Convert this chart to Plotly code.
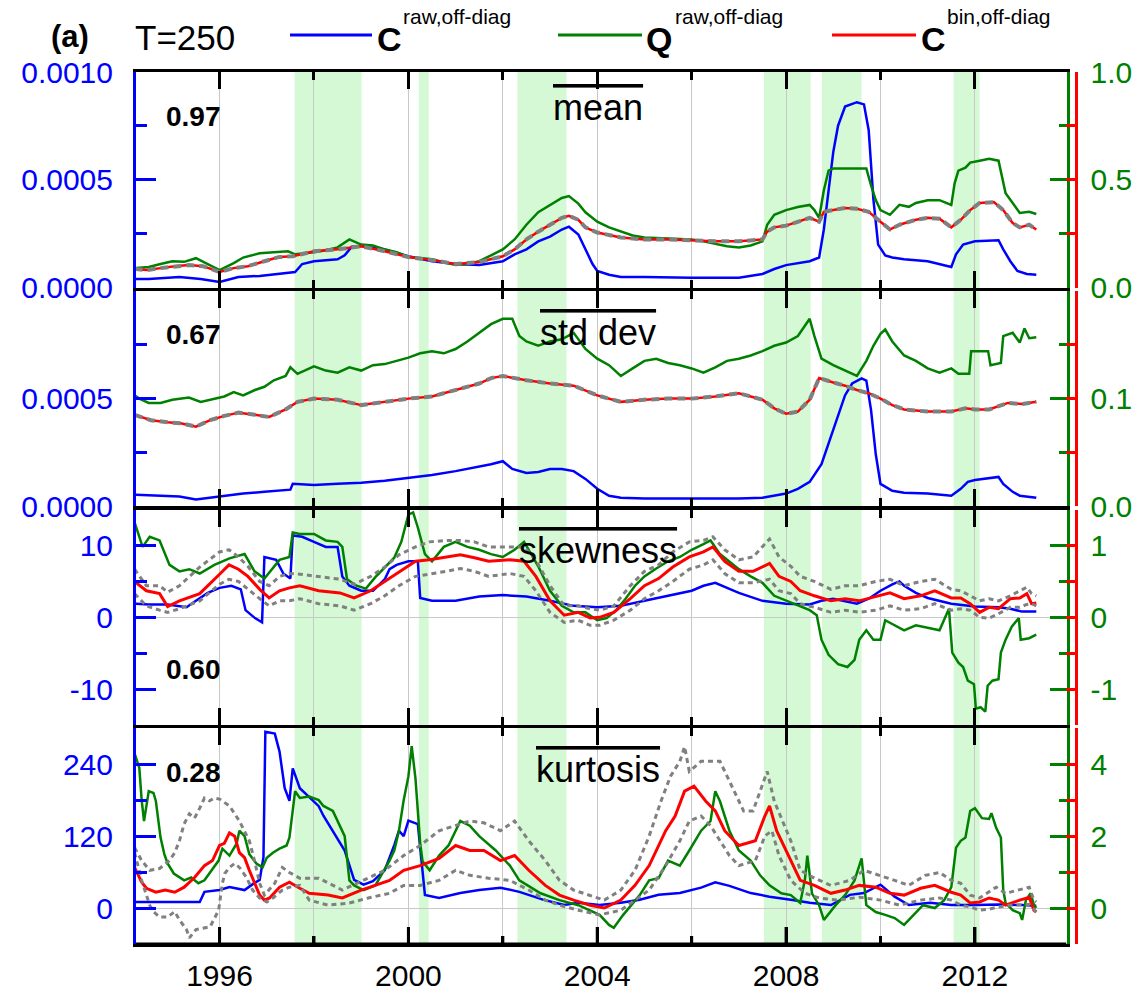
import plotly.graph_objects as go

# ---------------- data ----------------
shade_start = [1997.59, 2000.22, 2002.31, 2007.53, 2008.76, 2011.55]
shade_end = [1999.01, 2000.43, 2003.35, 2008.52, 2009.60, 2012.10]

x_major = [1996, 2000, 2004, 2008, 2012]
x_major_text = ["1996", "2000", "2004", "2008", "2012"]
x_minor = [1998, 2002, 2006, 2010]

# ---- panel 1: mean ----
mean_C_t = [1994.2, 1994.5, 1995.15, 1995.6, 1996.0, 1996.4, 1996.85, 1997.3, 1997.6, 1997.75, 1998.0, 1998.5,
            1998.65, 1998.8, 1999.0, 1999.5, 2000.0, 2000.5, 2001.0, 2001.5, 2002.0, 2002.25, 2002.5, 2002.75,
            2003.0, 2003.25, 2003.4, 2003.6, 2003.75, 2003.9, 2004.0, 2004.25, 2004.5, 2005.0, 2006.0, 2007.0,
            2007.5, 2007.75, 2008.0, 2008.25, 2008.5, 2008.7, 2008.8, 2008.9, 2009.0, 2009.1, 2009.25, 2009.5,
            2009.65, 2009.75, 2009.85, 2009.95, 2010.1, 2010.25, 2010.5, 2011.0, 2011.25, 2011.5, 2011.6, 2011.75,
            2012.0, 2012.5, 2012.6, 2012.75, 2012.9, 2013.1, 2013.3]
mean_C = [4.1e-5, 4.0e-5, 5.0e-5, 4.1e-5, 2.7e-5, 5.0e-5, 5.5e-5, 6.4e-5, 7.3e-5, 1.10e-4, 1.23e-4, 1.32e-4,
          1.50e-4, 1.90e-4, 1.95e-4, 1.78e-4, 1.46e-4, 1.23e-4, 1.10e-4, 1.05e-4, 1.23e-4, 1.55e-4, 1.78e-4, 2.15e-4,
          2.37e-4, 2.70e-4, 2.83e-4, 2.47e-4, 1.78e-4, 1.10e-4, 7.8e-5, 6.0e-5, 5.0e-5, 5.0e-5, 4.6e-5, 4.6e-5,
          6.4e-5, 8.7e-5, 1.05e-4, 1.14e-4, 1.23e-4, 1.40e-4, 2.70e-4, 4.50e-4, 6.30e-4, 7.50e-4, 8.40e-4, 8.60e-4,
          8.50e-4, 7.30e-4, 4.10e-4, 2.00e-4, 1.50e-4, 1.40e-4, 1.32e-4, 1.23e-4, 1.10e-4, 9.6e-5, 1.55e-4, 2.00e-4,
          2.15e-4, 2.20e-4, 1.78e-4, 1.23e-4, 7.8e-5, 6.4e-5, 6.0e-5]

mean_Q_t = [1994.2, 1994.5, 1994.75, 1995.0, 1995.25, 1995.5, 1995.75, 1996.0, 1996.3, 1996.5, 1996.85, 1997.2,
            1997.45, 1997.6, 1998.0, 1998.25, 1998.5, 1998.75, 1999.0, 1999.25, 1999.5, 1999.75, 2000.0, 2000.25,
            2000.5, 2000.75, 2001.0, 2001.25, 2001.5, 2001.75, 2002.0, 2002.25, 2002.5, 2002.75, 2003.0, 2003.25,
            2003.4, 2003.6, 2003.75, 2004.0, 2004.25, 2004.5, 2004.75, 2005.0, 2005.5, 2006.0, 2006.25, 2006.5,
            2006.75, 2007.0, 2007.25, 2007.5, 2007.6, 2007.75, 2008.0, 2008.25, 2008.5, 2008.6, 2008.7, 2008.8,
            2008.9, 2009.0, 2009.5, 2009.7, 2009.8, 2009.9, 2010.0, 2010.2, 2010.4, 2010.6, 2010.75, 2011.0,
            2011.25, 2011.5, 2011.57, 2011.65, 2011.8, 2011.9, 2012.1, 2012.3, 2012.5, 2012.57, 2012.65, 2012.95,
            2013.15, 2013.3]
mean_Q = [0.091, 0.096, 0.11, 0.123, 0.12, 0.137, 0.11, 0.082, 0.114, 0.14, 0.16, 0.164,
          0.169, 0.155, 0.164, 0.174, 0.187, 0.224, 0.2, 0.196, 0.178, 0.165, 0.142, 0.138,
          0.132, 0.118, 0.105, 0.11, 0.123, 0.15, 0.178, 0.224, 0.292, 0.35, 0.384, 0.416,
          0.425, 0.39, 0.35, 0.306, 0.28, 0.26, 0.242, 0.233, 0.228, 0.224, 0.215, 0.205,
          0.192, 0.187, 0.196, 0.215, 0.292, 0.338, 0.36, 0.374, 0.384, 0.36, 0.324, 0.452,
          0.543, 0.553, 0.553, 0.553, 0.475, 0.406, 0.36, 0.338, 0.384, 0.375, 0.393, 0.406,
          0.406, 0.384, 0.484, 0.543, 0.557, 0.58, 0.589, 0.598, 0.589, 0.511, 0.438, 0.347,
          0.352, 0.342]

mean_B_t = [1994.2, 1994.45, 1994.75, 1995.05, 1995.35, 1995.65, 1996.0, 1996.3, 1996.6, 1996.95, 1997.25, 1997.55,
            1998.0, 1998.5, 1999.0, 1999.5, 2000.0, 2000.5, 2001.0, 2001.5, 2002.0, 2002.25, 2002.5, 2002.75,
            2003.0, 2003.25, 2003.4, 2003.6, 2003.75, 2004.0, 2004.5, 2005.0, 2005.5, 2006.0, 2006.5, 2007.0,
            2007.5, 2007.6, 2007.75, 2008.0, 2008.25, 2008.5, 2008.7, 2008.8, 2009.0, 2009.25, 2009.5, 2009.75,
            2010.0, 2010.2, 2010.4, 2010.75, 2011.0, 2011.25, 2011.5, 2011.7, 2011.9, 2012.1, 2012.4, 2012.6,
            2012.8, 2012.95, 2013.15, 2013.3]
mean_B = [0.087, 0.082, 0.091, 0.1, 0.105, 0.1, 0.073, 0.091, 0.1, 0.123, 0.142, 0.146,
          0.169, 0.178, 0.192, 0.169, 0.142, 0.128, 0.11, 0.119, 0.146, 0.178, 0.224, 0.26,
          0.292, 0.324, 0.333, 0.315, 0.28, 0.256, 0.233, 0.224, 0.224, 0.219, 0.215, 0.215,
          0.224, 0.26, 0.28, 0.288, 0.306, 0.324, 0.306, 0.352, 0.36, 0.37, 0.366, 0.352,
          0.306, 0.27, 0.292, 0.315, 0.324, 0.32, 0.28, 0.315, 0.36, 0.393, 0.397, 0.36,
          0.3, 0.28, 0.292, 0.27]

# ---- panel 2: std dev ----
std_C_t = [1994.2, 1994.75, 1995.15, 1995.5, 1995.8, 1996.1, 1996.5, 1996.95, 1997.5, 1997.55, 1998.0, 1998.5,
           1999.0, 1999.5, 2000.0, 2000.5, 2001.0, 2001.5, 2001.75, 2002.0, 2002.2, 2002.5, 2002.75, 2003.0,
           2003.25, 2003.5, 2003.75, 2004.0, 2004.25, 2004.5, 2005.0, 2006.0, 2007.0, 2007.5, 2007.75, 2008.0,
           2008.25, 2008.5, 2008.75, 2009.0, 2009.25, 2009.4, 2009.6, 2009.7, 2009.8, 2009.9, 2010.0, 2010.25,
           2010.5, 2011.0, 2011.5, 2011.7, 2011.85, 2012.0, 2012.5, 2012.6, 2012.8, 2012.95, 2013.3]
std_C = [5.5e-5, 5.0e-5, 4.6e-5, 3.2e-5, 4.1e-5, 5.0e-5, 6.0e-5, 6.8e-5, 7.8e-5, 1.05e-4, 1.00e-4, 1.05e-4,
         1.10e-4, 1.19e-4, 1.32e-4, 1.46e-4, 1.64e-4, 1.83e-4, 1.96e-4, 2.10e-4, 1.74e-4, 1.55e-4, 1.60e-4, 1.74e-4,
         1.74e-4, 1.64e-4, 1.28e-4, 8.2e-5, 5.0e-5, 4.1e-5, 3.7e-5, 3.7e-5, 3.7e-5, 4.1e-5, 5.0e-5, 6.0e-5,
         8.2e-5, 1.14e-4, 1.96e-4, 3.56e-4, 5.16e-4, 5.70e-4, 5.94e-4, 5.84e-4, 4.47e-4, 2.42e-4, 1.05e-4, 7.3e-5,
         6.4e-5, 6.0e-5, 5.0e-5, 8.2e-5, 1.14e-4, 1.23e-4, 1.37e-4, 1.05e-4, 6.8e-5, 5.0e-5, 4.1e-5]

std_Q_t = [1994.2, 1994.3, 1994.5, 1994.75, 1995.0, 1995.35, 1995.6, 1995.9, 1996.1, 1996.3, 1996.5, 1996.75,
           1996.95, 1997.15, 1997.4, 1997.5, 1997.65, 1998.0, 1998.25, 1998.5, 1998.75, 1999.0, 1999.25, 1999.5,
           1999.75, 2000.0, 2000.25, 2000.5, 2000.75, 2001.0, 2001.25, 2001.5, 2001.75, 2002.0, 2002.2, 2002.35,
           2002.5, 2002.75, 2003.0, 2003.25, 2003.5, 2003.75, 2004.0, 2004.25, 2004.5, 2004.75, 2005.0, 2005.25,
           2005.5, 2005.75, 2006.0, 2006.25, 2006.5, 2006.75, 2007.0, 2007.25, 2007.5, 2007.75, 2008.0, 2008.25,
           2008.4, 2008.5, 2008.6, 2008.75, 2009.0, 2009.25, 2009.5, 2009.7, 2009.85, 2010.0, 2010.1, 2010.25,
           2010.5, 2010.75, 2011.0, 2011.25, 2011.5, 2011.65, 2011.88, 2011.92, 2012.28, 2012.33, 2012.55, 2012.6,
           2012.8, 2012.95, 2013.05, 2013.15, 2013.3]
std_Q = [0.103, 0.1, 0.096, 0.096, 0.099, 0.101, 0.097, 0.1, 0.102, 0.106, 0.103, 0.108,
         0.111, 0.117, 0.121, 0.129, 0.123, 0.13, 0.126, 0.124, 0.129, 0.126, 0.131, 0.132,
         0.135, 0.138, 0.142, 0.144, 0.142, 0.146, 0.153, 0.161, 0.169, 0.174, 0.174, 0.158,
         0.153, 0.149, 0.153, 0.155, 0.161, 0.146, 0.137, 0.131, 0.121, 0.128, 0.135, 0.137,
         0.133, 0.131, 0.128, 0.124, 0.129, 0.135, 0.137, 0.14, 0.144, 0.149, 0.152, 0.158,
         0.167, 0.174, 0.158, 0.137, 0.131, 0.126, 0.121, 0.135, 0.149, 0.16, 0.164, 0.153,
         0.14, 0.135, 0.128, 0.124, 0.128, 0.123, 0.123, 0.144, 0.144, 0.131, 0.133, 0.158,
         0.161, 0.152, 0.165, 0.156, 0.157]

std_B_t = [1994.2, 1994.55, 1994.9, 1995.2, 1995.5, 1995.8, 1996.1, 1996.4, 1996.75, 1997.05, 1997.4, 1997.65,
           1998.0, 1998.5, 1999.0, 1999.5, 2000.0, 2000.5, 2001.0, 2001.5, 2001.75, 2002.0, 2002.5, 2003.0,
           2003.5, 2004.0, 2004.5, 2005.0, 2005.5, 2006.0, 2006.5, 2007.0, 2007.5, 2007.75, 2008.0, 2008.25,
           2008.5, 2008.7, 2009.0, 2009.25, 2009.5, 2009.75, 2010.0, 2010.25, 2010.5, 2011.0, 2011.5, 2011.8,
           2012.0, 2012.3, 2012.7, 2013.0, 2013.3]
std_B = [0.085, 0.08, 0.078, 0.077, 0.074, 0.08, 0.084, 0.087, 0.085, 0.083, 0.09, 0.097,
         0.1, 0.099, 0.094, 0.097, 0.1, 0.102, 0.108, 0.114, 0.119, 0.121, 0.117, 0.114,
         0.112, 0.103, 0.097, 0.099, 0.1, 0.1, 0.102, 0.105, 0.099, 0.091, 0.086, 0.088,
         0.099, 0.119, 0.115, 0.112, 0.108, 0.105, 0.1, 0.094, 0.09, 0.088, 0.088, 0.091,
         0.09, 0.09, 0.096, 0.095, 0.097]

# ---- panel 3: skewness ----
skew_C_t = [1994.2, 1994.5, 1994.9, 1995.3, 1995.5, 1995.75, 1996.0, 1996.25, 1996.45, 1996.55, 1996.75, 1996.9,
            1996.95, 1997.2, 1997.35, 1997.5, 1997.55, 1997.75, 1998.0, 1998.25, 1998.5, 1998.6, 1998.75, 1999.0,
            1999.25, 1999.5, 1999.6, 1999.75, 2000.0, 2000.2, 2000.25, 2000.5, 2001.0, 2001.5, 2002.0, 2002.5,
            2003.0, 2003.5, 2004.0, 2004.5, 2005.0, 2005.5, 2006.0, 2006.25, 2006.5, 2006.75, 2007.0, 2007.5,
            2008.0, 2008.5, 2008.75, 2009.0, 2009.5, 2009.75, 2010.0, 2010.25, 2010.4, 2010.5, 2010.75, 2011.0,
            2011.5, 2012.0, 2012.5, 2012.75, 2013.0, 2013.3]
skew_C = [1.9, 1.8, 1.8, 1.4, 2.3, 3.4, 4.1, 4.4, 3.9, 1.0, -0.1, -0.7,
          8.4, 8.0, 6.1, 5.4, 11.4, 11.2, 10.5, 9.8, 9.8, 5.7, 4.4, 3.7,
          3.7, 5.3, 6.7, 7.3, 7.8, 7.8, 2.7, 2.3, 2.3, 2.9, 3.1, 2.9,
          2.3, 1.6, 1.4, 1.6, 2.3, 3.0, 3.7, 4.4, 4.8, 4.1, 3.4, 2.3,
          1.9, 1.8, 2.3, 2.6, 1.9, 2.6, 3.7, 4.6, 5.0, 4.4, 3.4, 2.7,
          1.9, 1.5, 1.4, 1.2, 0.8, 0.8]

skew_Q_t = [1994.2, 1994.37, 1994.52, 1994.73, 1994.94, 1995.15, 1995.36, 1995.58, 1995.89, 1996.21, 1996.53, 1996.74,
            1996.95, 1997.27, 1997.48, 1997.55, 1997.7, 1998.0, 1998.25, 1998.5, 1998.6, 1998.7, 1998.9, 1999.1,
            1999.3, 1999.5, 1999.7, 1999.85, 2000.0, 2000.1, 2000.2, 2000.35, 2000.5, 2000.75, 2001.0, 2001.25,
            2001.5, 2001.75, 2002.0, 2002.25, 2002.45, 2002.6, 2002.75, 2003.0, 2003.25, 2003.5, 2003.75, 2004.0,
            2004.2, 2004.4, 2004.6, 2004.8, 2005.0, 2005.25, 2005.5, 2005.75, 2006.0, 2006.25, 2006.4, 2006.6,
            2006.8, 2007.0, 2007.25, 2007.5, 2007.75, 2008.0, 2008.25, 2008.5, 2008.65, 2008.75, 2008.9, 2009.1,
            2009.3, 2009.45, 2009.55, 2009.7, 2009.85, 2010.0, 2010.1, 2010.3, 2010.5, 2010.75, 2011.0, 2011.25,
            2011.45, 2011.52, 2011.65, 2011.75, 2011.85, 2011.98, 2012.02, 2012.12, 2012.22, 2012.27, 2012.37, 2012.5,
            2012.55, 2012.65, 2012.78, 2012.93, 2012.97, 2013.15, 2013.3]
skew_Q = [1.32, 0.98, 1.12, 1.07, 0.73, 0.64, 0.67, 0.61, 0.73, 0.82, 0.88, 0.64,
          0.54, 0.8, 0.84, 1.18, 1.16, 1.16, 1.07, 1.05, 0.98, 0.53, 0.44, 0.4,
          0.56, 0.69, 0.83, 1.05, 1.43, 1.46, 1.25, 0.88, 0.78, 0.98, 1.05, 0.98,
          0.94, 0.88, 0.84, 0.94, 1.05, 0.88, 0.71, 0.37, 0.16, 0.07, 0.07, -0.04,
          -0.01, 0.1, 0.26, 0.44, 0.57, 0.68, 0.78, 0.84, 0.94, 1.02, 1.07, 0.88,
          0.78, 0.67, 0.57, 0.48, 0.3, 0.23, 0.16, 0.1, 0.03, -0.31, -0.52, -0.65,
          -0.69, -0.59, -0.31, -0.18, -0.31, -0.31, -0.04, -0.11, -0.18, -0.11, -0.15, -0.18,
          0.12, -0.49, -0.63, -0.69, -0.88, -0.93, -1.27, -1.25, -1.31, -0.95, -0.88, -0.86,
          -0.49, -0.31, -0.13, -0.01, -0.31, -0.29, -0.24]

skew_B_t = [1994.2, 1994.45, 1994.73, 1994.9, 1995.15, 1995.58, 1996.0, 1996.2, 1996.4, 1996.6, 1996.85, 1997.05,
            1997.27, 1997.48, 1997.7, 1998.1, 1998.55, 1998.85, 1999.2, 1999.5, 1999.8, 2000.15, 2000.45, 2000.8,
            2001.1, 2001.4, 2001.7, 2002.15, 2002.45, 2002.7, 2003.0, 2003.3, 2003.6, 2003.85, 2004.05, 2004.35,
            2004.7, 2005.0, 2005.3, 2005.6, 2005.95, 2006.25, 2006.45, 2006.7, 2007.0, 2007.3, 2007.65, 2007.85,
            2008.1, 2008.3, 2008.6, 2008.95, 2009.25, 2009.55, 2009.9, 2010.2, 2010.5, 2010.85, 2011.15, 2011.5,
            2011.7, 2011.9, 2012.1, 2012.3, 2012.5, 2012.75, 2012.95, 2013.1, 2013.2, 2013.3]
skew_B = [0.5, 0.37, 0.33, 0.15, 0.23, 0.33, 0.6, 0.73, 0.67, 0.57, 0.39, 0.27,
          0.37, 0.41, 0.44, 0.37, 0.34, 0.27, 0.37, 0.5, 0.64, 0.78, 0.8, 0.84,
          0.87, 0.83, 0.78, 0.8, 0.78, 0.57, 0.23, 0.03, 0.07, -0.01, 0.0, 0.07,
          0.26, 0.44, 0.54, 0.7, 0.84, 0.91, 0.98, 0.78, 0.64, 0.64, 0.75, 0.57,
          0.5, 0.37, 0.3, 0.23, 0.26, 0.23, 0.29, 0.34, 0.26, 0.3, 0.37, 0.27,
          0.27, 0.19, 0.07, 0.14, 0.12, 0.26, 0.27, 0.33, 0.19, 0.2]
skew_B_hi = [0.67, 0.44, 0.44, 0.35, 0.44, 0.7, 0.91, 0.94, 0.84, 0.71, 0.5, 0.44,
             0.57, 0.61, 0.6, 0.57, 0.53, 0.46, 0.57, 0.7, 0.87, 0.98, 1.05, 1.07,
             1.07, 1.05, 0.98, 0.98, 0.98, 0.8, 0.44, 0.16, 0.16, 0.12, 0.1, 0.16,
             0.44, 0.64, 0.73, 0.91, 1.05, 1.07, 1.12, 0.94, 0.8, 0.84, 1.09, 0.84,
             0.71, 0.57, 0.5, 0.39, 0.44, 0.44, 0.5, 0.53, 0.44, 0.5, 0.53, 0.39,
             0.37, 0.3, 0.23, 0.26, 0.23, 0.3, 0.37, 0.42, 0.33, 0.3]
skew_B_lo = [0.33, 0.16, 0.1, 0.07, 0.12, 0.23, 0.46, 0.53, 0.5, 0.39, 0.26, 0.16,
             0.23, 0.23, 0.26, 0.19, 0.16, 0.1, 0.19, 0.3, 0.44, 0.57, 0.6, 0.64,
             0.68, 0.64, 0.57, 0.61, 0.57, 0.37, 0.07, -0.07, -0.04, -0.11, -0.11, -0.04,
             0.1, 0.26, 0.37, 0.5, 0.67, 0.73, 0.8, 0.61, 0.48, 0.48, 0.53, 0.37,
             0.33, 0.19, 0.14, 0.07, 0.1, 0.07, 0.1, 0.16, 0.1, 0.12, 0.19, 0.1,
             0.12, 0.1, 0.0, -0.01, 0.05, 0.14, 0.14, 0.18, 0.19, 0.16]

# ---- panel 4: kurtosis ----
kurt_C_t = [1994.2, 1994.5, 1994.94, 1995.58, 1995.68, 1996.0, 1996.21, 1996.53, 1996.74, 1996.85, 1996.93, 1996.97,
            1997.17, 1997.27, 1997.38, 1997.48, 1997.55, 1997.7, 1997.9, 1998.1, 1998.2, 1998.4, 1998.65, 1998.85,
            1999.05, 1999.25, 1999.5, 1999.7, 1999.8, 1999.9, 2000.0, 2000.2, 2000.27, 2000.35, 2000.65, 2001.1,
            2001.5, 2001.95, 2002.35, 2002.85, 2003.3, 2003.6, 2004.05, 2004.5, 2004.9, 2005.3, 2005.75, 2006.2,
            2006.5, 2006.8, 2007.25, 2007.65, 2008.1, 2008.5, 2008.95, 2009.35, 2009.65, 2010.0, 2010.3, 2010.6,
            2011.05, 2011.5, 2012.0, 2012.5, 2013.0, 2013.3]
kurt_C = [10, 10, 9, 10, 27, 30, 35, 30, 42, 47, 85, 294,
          291, 261, 200, 179, 233, 200, 185, 170, 154, 129, 96, 47,
          39, 45, 63, 105, 129, 120, 146, 140, 80, 22, 17, 25,
          30, 34, 27, 14, 5, 9, 5, 9, 14, 22, 25, 34,
          43, 37, 25, 19, 14, 9, 5, 22, 25, 39, 19, 5,
          9, 5, 5, 6, 5, 4]

kurt_Q_t = [1994.2, 1994.3, 1994.35, 1994.4, 1994.5, 1994.6, 1994.65, 1994.75, 1994.83, 1994.9, 1995.03, 1995.25,
            1995.4, 1995.55, 1995.68, 1995.83, 1995.98, 1996.06, 1996.21, 1996.36, 1996.42, 1996.53, 1996.63, 1996.78,
            1996.91, 1997.0, 1997.13, 1997.27, 1997.42, 1997.48, 1997.55, 1997.6, 1997.7, 1997.9, 1998.1, 1998.2,
            1998.4, 1998.65, 1998.75, 1998.85, 1999.05, 1999.3, 1999.6, 1999.7, 1999.8, 1999.9, 2000.0, 2000.07,
            2000.15, 2000.25, 2000.3, 2000.45, 2000.65, 2000.85, 2001.1, 2001.3, 2001.5, 2001.85, 2002.15, 2002.35,
            2002.8, 2003.2, 2003.6, 2004.05, 2004.25, 2004.35, 2004.55, 2004.9, 2005.1, 2005.3, 2005.5, 2005.75,
            2005.95, 2006.2, 2006.4, 2006.5, 2006.6, 2006.8, 2007.0, 2007.25, 2007.45, 2007.65, 2007.9, 2008.1,
            2008.3, 2008.4, 2008.45, 2008.55, 2008.7, 2008.8, 2009.05, 2009.25, 2009.45, 2009.6, 2009.7, 2009.9,
            2010.1, 2010.3, 2010.5, 2010.7, 2010.9, 2011.15, 2011.35, 2011.5, 2011.6, 2011.7, 2011.8, 2011.9,
            2012.0, 2012.15, 2012.3, 2012.35, 2012.45, 2012.55, 2012.6, 2012.65, 2012.8, 2012.95, 2013.0, 2013.08,
            2013.18, 2013.25, 2013.3]
kurt_Q = [4.3, 3.9, 3.0, 2.42, 3.25, 3.2, 2.98, 1.96, 1.5, 1.24, 0.96, 0.77,
          0.85, 0.69, 0.77, 1.05, 1.32, 1.65, 1.46, 1.79, 2.15, 2.0, 1.5, 1.24,
          1.13, 1.4, 1.54, 1.65, 1.74, 1.96, 2.78, 3.25, 3.06, 3.1, 3.0, 2.84,
          2.7, 2.0, 0.77, 0.63, 0.5, 0.63, 1.32, 1.6, 2.15, 3.0, 3.66, 4.5,
          3.6, 1.8, 1.3, 1.05, 1.46, 1.74, 2.42, 2.29, 2.0, 1.6, 1.18, 0.77,
          0.41, 0.22, 0.08, -0.19, -0.47, -0.55, -0.19, 0.36, 0.77, 0.83, 1.32, 1.18,
          1.6, 2.15, 2.42, 3.25, 2.97, 2.15, 1.6, 1.32, 0.91, 0.63, 0.41, 0.36,
          0.14, 0.8, 1.46, 0.4, 0.08, -0.33, 0.08, 0.36, 0.77, 1.38, 0.08, -0.11,
          -0.19, -0.28, -0.47, -0.19, 0.08, 0.0, 0.22, 0.58, 1.68, 1.87, 1.96, 2.7,
          2.78, 2.5, 2.48, 2.64, 2.23, 1.96, 0.5, 0.14, -0.06, -0.14, -0.33, 0.22,
          0.41, 0.08, 0.0]

kurt_B_t = [1994.2, 1994.35, 1994.45, 1994.65, 1994.85, 1995.05, 1995.25, 1995.47, 1995.68, 1995.85, 1996.0, 1996.1,
            1996.21, 1996.32, 1996.42, 1996.53, 1996.63, 1996.74, 1996.85, 1996.95, 1997.06, 1997.27, 1997.48, 1997.7,
            1997.9, 1998.3, 1998.6, 1999.0, 1999.3, 1999.6, 1999.9, 2000.25, 2000.65, 2001.0, 2001.3, 2001.6,
            2001.95, 2002.25, 2002.55, 2002.9, 2003.2, 2003.5, 2003.85, 2004.15, 2004.5, 2004.8, 2005.1, 2005.45,
            2005.65, 2005.85, 2006.05, 2006.3, 2006.5, 2006.7, 2007.0, 2007.35, 2007.55, 2007.65, 2007.8, 2008.1,
            2008.3, 2008.6, 2008.95, 2009.25, 2009.55, 2009.9, 2010.2, 2010.5, 2010.85, 2011.15, 2011.5, 2011.7,
            2011.9, 2012.1, 2012.3, 2012.5, 2012.65, 2012.95, 2013.15, 2013.25, 2013.3]
kurt_B = [1.13, 0.72, 0.55, 0.44, 0.5, 0.44, 0.58, 0.85, 1.18, 1.32, 1.74, 1.8,
          2.09, 2.0, 1.54, 1.4, 1.05, 0.69, 0.36, 0.22, 0.28, 0.58, 0.72, 0.55,
          0.41, 0.36, 0.28, 0.5, 0.63, 0.77, 1.05, 1.18, 1.38, 1.74, 1.6, 1.6,
          1.32, 1.46, 1.05, 0.63, 0.36, 0.22, 0.08, 0.0, 0.22, 0.63, 1.18, 2.15,
          2.56, 3.25, 3.39, 2.97, 2.7, 2.15, 1.74, 1.87, 2.56, 2.84, 2.15, 1.32,
          0.77, 0.63, 0.41, 0.5, 0.63, 0.58, 0.41, 0.36, 0.55, 0.63, 0.44, 0.36,
          0.14, 0.17, 0.28, 0.22, 0.08, 0.22, 0.3, -0.06, -0.11]

kurt_B_hi_t = [1994.2, 1994.35, 1994.52, 1994.73, 1994.94, 1995.05, 1995.15, 1995.25, 1995.36, 1995.47, 1995.58, 1995.68,
               1995.79, 1995.89, 1996.0, 1996.21, 1996.42, 1996.63, 1996.74, 1996.85, 1996.95, 1997.17, 1997.33, 1997.48,
               1997.7, 1998.1, 1998.6, 1999.05, 1999.5, 1999.9, 2000.25, 2000.65, 2001.0, 2001.3, 2001.6, 2001.95,
               2002.25, 2002.55, 2002.9, 2003.2, 2003.5, 2003.85, 2004.15, 2004.5, 2004.8, 2005.1, 2005.35, 2005.55,
               2005.75, 2005.85, 2005.95, 2006.2, 2006.4, 2006.6, 2006.8, 2007.1, 2007.3, 2007.6, 2007.75, 2008.1,
               2008.3, 2008.6, 2008.95, 2009.35, 2009.65, 2010.0, 2010.3, 2010.6, 2010.95, 2011.25, 2011.5, 2011.7,
               2011.9, 2012.1, 2012.3, 2012.45, 2012.65, 2012.95, 2013.15, 2013.25, 2013.3]
kurt_B_hi = [1.68, 1.32, 1.05, 1.1, 1.32, 1.54, 1.87, 2.34, 2.62, 2.5, 2.78, 3.06,
             2.98, 3.06, 3.03, 2.84, 2.42, 1.87, 1.32, 0.69, 0.36, 0.69, 1.13, 0.99,
             0.83, 0.83, 0.5, 0.77, 1.05, 1.46, 1.74, 2.15, 2.29, 2.42, 2.37, 2.15,
             2.42, 1.87, 1.32, 0.77, 0.5, 0.36, 0.22, 0.5, 1.05, 2.0, 2.97, 3.66,
             4.08, 4.49, 3.8, 4.08, 4.08, 4.08, 3.53, 2.7, 2.7, 3.8, 2.97, 1.87,
             1.05, 0.83, 0.63, 0.77, 1.05, 0.91, 0.77, 0.63, 0.91, 0.99, 0.77, 0.69,
             0.36, 0.28, 0.44, 0.58, 0.41, 0.5, 0.58, 0.22, 0.17]

kurt_B_lo_t = [1994.2, 1994.35, 1994.52, 1994.6, 1994.73, 1994.9, 1995.05, 1995.15, 1995.3, 1995.36, 1995.5, 1995.68,
               1995.8, 1995.98, 1996.06, 1996.11, 1996.21, 1996.32, 1996.42, 1996.57, 1996.7, 1996.85, 1997.0, 1997.13,
               1997.33, 1997.48, 1997.7, 1997.9, 1998.3, 1998.75, 1999.15, 1999.6, 1999.9, 2000.25, 2000.65, 2001.0,
               2001.3, 2001.7, 2002.15, 2002.55, 2002.9, 2003.2, 2003.6, 2004.05, 2004.5, 2004.8, 2005.1, 2005.45,
               2005.75, 2005.95, 2006.2, 2006.4, 2006.6, 2006.8, 2007.0, 2007.35, 2007.55, 2007.7, 2007.85, 2008.1,
               2008.4, 2008.7, 2009.1, 2009.55, 2010.0, 2010.4, 2010.85, 2011.25, 2011.5, 2011.7, 2011.9, 2012.1,
               2012.3, 2012.5, 2012.75, 2013.0, 2013.15, 2013.3]
kurt_B_lo = [1.54, 0.77, 0.08, -0.1, -0.25, -0.25, -0.1, -0.33, -0.6, -0.83, -0.6, -0.55,
             -0.52, -0.06, 0.69, 0.96, 1.13, 1.24, 1.13, 0.85, 0.5, 0.28, 0.17, 0.28,
             0.5, 0.58, 0.63, 0.22, 0.08, 0.14, 0.28, 0.41, 0.63, 0.63, 0.77, 1.05,
             0.91, 0.83, 0.77, 0.5, 0.22, 0.08, -0.06, -0.19, -0.06, 0.22, 0.5, 1.18,
             1.87, 2.42, 2.56, 2.29, 1.87, 1.46, 1.18, 1.32, 2.0, 2.15, 1.46, 0.77,
             0.41, 0.28, 0.22, 0.3, 0.22, 0.08, 0.22, 0.28, 0.22, 0.08, 0.03, -0.06,
             -0.03, 0.03, 0.08, 0.08, 0.1, -0.11]

panel_titles = ["mean", "std dev", "skewness", "kurtosis"]
panel_numbers = ["0.97", "0.67", "0.60", "0.28"]

left_ranges = [[0, 0.001], [0, 0.001], [-15, 15], [-60, 300]]
left_major = [[0, 0.0005, 0.001], [0, 0.0005, 0.001], [-10, 0, 10], [0, 120, 240]]
left_major_text = [["0.0000", "0.0005", "0.0010"], ["0.0000", "0.0005", ""], ["-10", "0", "10"], ["0", "120", "240"]]
left_minor = [[0.00025, 0.00075], [0.00025, 0.00075], [-15, -5, 5, 15], [-60, 60, 180, 300]]

right_ranges = [[0, 1], [0, 0.2], [-1.5, 1.5], [-1, 5]]
right_major = [[0, 0.5, 1.0], [0, 0.1, 0.2], [-1, 0, 1], [0, 2, 4]]
right_major_text = [["0.0", "0.5", "1.0"], ["0.0", "0.1", ""], ["-1", "0", "1"], ["0", "2", "4"]]
right_minor = [[0.25, 0.75], [0.05, 0.15], [-1.5, -0.5, 0.5, 1.5], [-1, 1, 3, 5]]

series = [
    dict(C=(mean_C_t, mean_C), Q=(mean_Q_t, mean_Q), B=(mean_B_t, mean_B),
         bands=[(mean_B_t, mean_B)], band_dash="8px,5px", band_w=4, red_w=2.5),
    dict(C=(std_C_t, std_C), Q=(std_Q_t, std_Q), B=(std_B_t, std_B),
         bands=[(std_B_t, std_B)], band_dash="8px,5px", band_w=4, red_w=2.5),
    dict(C=(skew_C_t, skew_C), Q=(skew_Q_t, skew_Q), B=(skew_B_t, skew_B),
         bands=[(skew_B_t, skew_B_hi), (skew_B_t, skew_B_lo)], band_dash="5px,4px", band_w=3, red_w=3),
    dict(C=(kurt_C_t, kurt_C), Q=(kurt_Q_t, kurt_Q), B=(kurt_B_t, kurt_B),
         bands=[(kurt_B_hi_t, kurt_B_hi), (kurt_B_lo_t, kurt_B_lo)], band_dash="5px,4px", band_w=3, red_w=3),
]

for s in series:
    for k in ("C", "Q", "B"):
        assert len(s[k][0]) == len(s[k][1]), (k, len(s[k][0]), len(s[k][1]))
    for b in s["bands"]:
        assert len(b[0]) == len(b[1])

# ---------------- layout geometry ----------------
W, H = 1138, 995
ML, MR, MT, MB = 136, 62, 72, 30
PW = W - ML - MR           # 940
PH = H - MT - MB           # 893
XDOM_R = round((1066.5 - ML) / PW, 6)
X_RANGE = [1994.23, 2013.94]
FRAME_W = 3
PANEL_H = 215.75
PANEL_TOP_PX = [72 + i * (PANEL_H + FRAME_W) for i in range(4)]
PLOT_BOTTOM_PX = PANEL_TOP_PX[3] + PANEL_H   # 944
X_TICK_MAJOR_PX, X_TICK_MINOR_PX = 17, 8

BLUE = "#0000ff"
GREEN = "#008000"
RED = "#ff0000"
GRAY = "#808080"
GRID = "#c8c8c8"
SHADE = "#d4f9d4"
FONT = "Liberation Sans, Arial, Helvetica, sans-serif"


def pxx(px):
    return (px - ML) / PW


def pxy(py):
    return (H - MB - py) / PH


fig = go.Figure()
layout = dict(
    width=W, height=H, autosize=False,
    margin=dict(l=ML, r=MR, t=MT, b=MB, pad=0),
    paper_bgcolor="white", plot_bgcolor="white",
    showlegend=False,
    font=dict(family=FONT, size=30, color="black"),
)

for i in range(4):
    n = i + 1
    xa = "x" if n == 1 else f"x{n}"
    xkey = "xaxis" if n == 1 else f"xaxis{n}"
    nl, ng, nr = 3 * n - 2, 3 * n - 1, 3 * n
    yl = "y" if nl == 1 else f"y{nl}"
    ykl = "yaxis" if nl == 1 else f"yaxis{nl}"
    yg, ykg = f"y{ng}", f"yaxis{ng}"
    yr, ykr = f"y{nr}", f"yaxis{nr}"
    top = min(1.0, max(0.0, round(pxy(PANEL_TOP_PX[i]), 6)))
    bot = min(1.0, max(0.0, round(pxy(PANEL_TOP_PX[i] + PANEL_H), 6)))
    s = series[i]

    fig.add_trace(go.Scatter(x=s["C"][0], y=s["C"][1], xaxis=xa, yaxis=yl, mode="lines",
                             line=dict(color=BLUE, width=2.5), hoverinfo="skip"))
    fig.add_trace(go.Scatter(x=s["Q"][0], y=s["Q"][1], xaxis=xa, yaxis=yg, mode="lines",
                             line=dict(color=GREEN, width=2.5), hoverinfo="skip"))
    fig.add_trace(go.Scatter(x=s["B"][0], y=s["B"][1], xaxis=xa, yaxis=yr, mode="lines",
                             line=dict(color=RED, width=s["red_w"]), hoverinfo="skip"))
    for bt, bv in s["bands"]:
        fig.add_trace(go.Scatter(x=bt, y=bv, xaxis=xa, yaxis=yr, mode="lines",
                                 line=dict(color=GRAY, width=s["band_w"], dash=s["band_dash"]),
                                 hoverinfo="skip"))

    layout[xkey] = dict(
        domain=[0, XDOM_R], anchor=yl, range=X_RANGE, automargin=False,
        showline=True, linecolor="black", linewidth=FRAME_W, mirror="ticks",
        ticks="inside", ticklen=X_TICK_MAJOR_PX, tickwidth=3, tickcolor="black",
        tickmode="array", tickvals=x_major, ticktext=x_major_text,
        showticklabels=(n == 4), tickfont=dict(size=30, color="black", family=FONT),
        ticklabelstandoff=3,
        showgrid=True, gridcolor=GRID, gridwidth=1, zeroline=False,
        minor=dict(tickmode="array", tickvals=x_minor, ticks="inside", ticklen=X_TICK_MINOR_PX,
                   tickwidth=3, tickcolor="black", showgrid=True, gridcolor=GRID, gridwidth=1),
    )

    layout[ykl] = dict(
        domain=[bot, top], anchor=xa, range=left_ranges[i], automargin=False,
        showline=True, linecolor=BLUE, linewidth=3,
        ticks="inside", ticklen=20, tickwidth=3, tickcolor=BLUE,
        tickmode="array", tickvals=left_major[i], ticktext=left_major_text[i],
        tickfont=dict(size=30, color=BLUE, family=FONT), ticklabelstandoff=14,
        showgrid=False, zeroline=(i >= 2), zerolinecolor=GRID, zerolinewidth=1,
        minor=dict(tickmode="array", tickvals=left_minor[i], ticks="inside", ticklen=11,
                   tickwidth=3, tickcolor=BLUE, showgrid=False),
    )
    layout[ykg] = dict(
        overlaying=yl, anchor=xa, side="right", range=right_ranges[i], automargin=False,
        showline=True, linecolor=GREEN, linewidth=3,
        ticks="inside", ticklen=17, tickwidth=3, tickcolor=GREEN,
        tickmode="array", tickvals=right_major[i], ticktext=right_major_text[i],
        tickfont=dict(size=30, color=GREEN, family=FONT), ticklabelstandoff=15,
        showgrid=False, zeroline=False,
        minor=dict(tickmode="array", tickvals=right_minor[i], ticks="inside", ticklen=8,
                   tickwidth=3, tickcolor=GREEN, showgrid=False),
    )
    layout[ykr] = dict(
        overlaying=yl, anchor="free", position=1.0, side="right", range=right_ranges[i],
        automargin=False,
        showline=True, linecolor=RED, linewidth=3,
        ticks="inside", ticklen=9, tickwidth=3, tickcolor=RED,
        tickmode="array", tickvals=right_major[i] + right_minor[i],
        showticklabels=False, showgrid=False, zeroline=False,
    )

# Bottom frame of the lowest panel: drawn through the kurtosis axes (line at the bottom of the
# y range plus the upward tick marks at the x tick positions), so that it is always visible.
y_bottom = left_ranges[3][0]
units_per_px = (left_ranges[3][1] - left_ranges[3][0]) / PANEL_H
fig.add_trace(go.Scatter(x=X_RANGE, y=[y_bottom, y_bottom], xaxis="x4", yaxis="y10", mode="lines",
                         cliponaxis=False, line=dict(color="black", width=FRAME_W), hoverinfo="skip"))
tick_x, tick_y = [], []
for xv in x_major:
    tick_x += [xv, xv, None]
    tick_y += [y_bottom, y_bottom + X_TICK_MAJOR_PX * units_per_px, None]
for xv in x_minor:
    tick_x += [xv, xv, None]
    tick_y += [y_bottom, y_bottom + X_TICK_MINOR_PX * units_per_px, None]
fig.add_trace(go.Scatter(x=tick_x, y=tick_y, xaxis="x4", yaxis="y10", mode="lines",
                         cliponaxis=False, line=dict(color="black", width=3), hoverinfo="skip"))

shapes = []
for a, b in zip(shade_start, shade_end):
    shapes.append(dict(type="rect", xref="x", yref="paper", x0=a, x1=b,
                       y0=pxy(PLOT_BOTTOM_PX), y1=1,
                       fillcolor=SHADE, line=dict(width=0), layer="below"))

# legend line samples
for x0, x1, col in [(290, 372, BLUE), (558, 642, GREEN), (832, 916, RED)]:
    shapes.append(dict(type="line", xref="paper", yref="paper", x0=pxx(x0), x1=pxx(x1),
                       y0=pxy(35), y1=pxy(35), line=dict(color=col, width=3)))

layout["shapes"] = shapes

ann = []


def add_text(text, px, py, size, xanchor="center", color="black", bold=False):
    t = f"<b>{text}</b>" if bold else text
    ann.append(dict(text=t, xref="paper", yref="paper", x=pxx(px), y=pxy(py),
                    xanchor=xanchor, yanchor="middle", showarrow=False,
                    font=dict(size=size, color=color, family=FONT)))


add_text("(a)", 70, 36, 31, bold=True)
add_text("T=250", 133, 38, 35, xanchor="left")
add_text("C", 375, 39, 34, xanchor="left", bold=True)
add_text("raw,off-diag", 401, 17, 21, xanchor="left")
add_text("Q", 644, 39, 34, xanchor="left", bold=True)
add_text("raw,off-diag", 673, 17, 21, xanchor="left")
add_text("C", 919, 39, 34, xanchor="left", bold=True)
add_text("bin,off-diag", 945, 17, 21, xanchor="left")

title_y = [107, 332, 550, 769]
num_y = [117, 334, 669, 772]
for i in range(4):
    add_text(f'<span style="text-decoration:overline">{panel_titles[i]}</span>', 598, title_y[i], 36)
    add_text(panel_numbers[i], 193, num_y[i], 28, bold=True)

layout["annotations"] = ann
fig.update_layout(**layout)

fig.write_html("out.html", include_plotlyjs=True, config={"displayModeBar": False})
